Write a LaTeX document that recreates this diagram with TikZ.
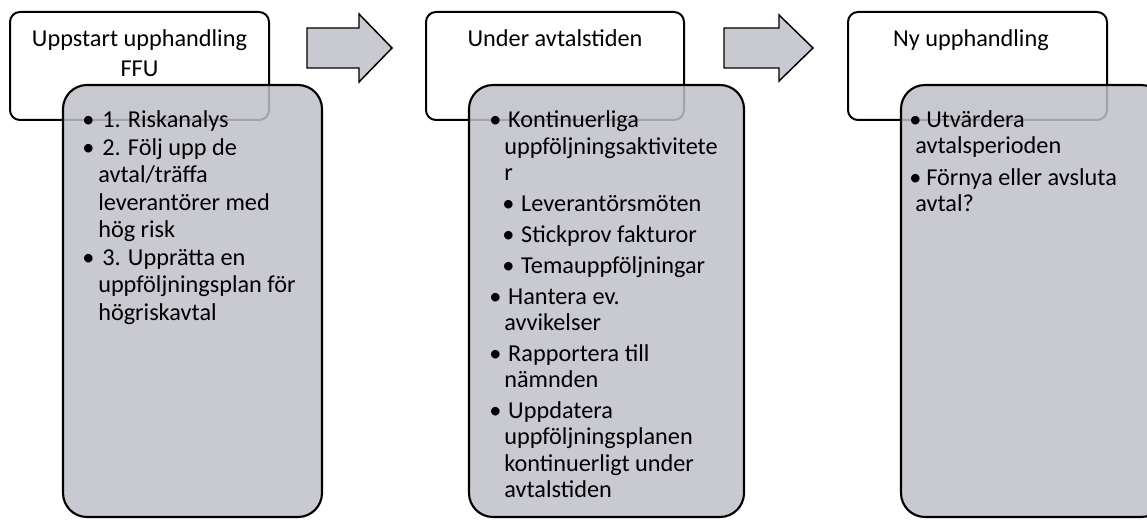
\documentclass[tikz,border=0pt]{standalone}
\usepackage{fontspec}
\setmainfont{Carlito}
\definecolor{panelgray}{RGB}{191,191,202}
\definecolor{arrowgray}{RGB}{201,201,210}
\newlength\bulw
\newlength\hangw
\newlength\subin
\newlength\subw
\newcommand\bl[1]{\par\hangindent=\hangw\hangafter=1\noindent\makebox[\bulw][l]{\textbullet}#1}
\newcommand\sbl[1]{\par\noindent\hspace*{\subin}\makebox[\subw][l]{\textbullet}#1}
\newcommand\bodyfont[1]{\fontsize{18.2pt}{#1}\selectfont}
\tikzset{
  hdr/.style={draw=black, line width=1.5pt, rounded corners=7.5pt, fill=white, inner sep=0pt,
    minimum width=194.25pt, minimum height=81pt},
  panel/.style={draw=black, line width=1.6pt, rounded corners=18pt, fill=panelgray,
    fill opacity=0.85, draw opacity=1, inner sep=0pt, minimum height=324pt},
  blockarrow/.style={draw=black, line width=1.1pt, fill=arrowgray, line join=miter},
  hdrtext/.style={anchor=base, inner sep=0pt},
  listtext/.style={anchor=base west, inner sep=0pt},
}
\begin{document}
\begin{tikzpicture}[x=0.75pt,y=-0.75pt]
\useasboundingbox (0,0) rectangle (1147,520);
\clip (0,0) rectangle (1147,520);

% headers and panels
\node[hdr] (h1) at (139.5,66) {};
\node[panel, minimum width=194.25pt] (g1) at (192.5,301) {};
\node[hdr, minimum width=193.5pt] (h2) at (555,66) {};
\node[panel, minimum width=206.25pt] (g2) at (606.5,301) {};
\node[hdr] (h3) at (977.5,66) {};
\node[panel, minimum width=198pt] (g3) at (1033,301) {};

% block arrows
\draw[blockarrow] (307,28) -- (359,28) -- (359,14) -- (392,48) -- (359,82) -- (359,68) -- (307,68) -- cycle;
\draw[blockarrow] (724,28) -- (779,28) -- (779,15) -- (813,48) -- (779,81) -- (779,68) -- (724,68) -- cycle;

% header texts
\node[hdrtext] (t1) at (139.5,46.5) {\parbox[t]{194pt}{\centering\bodyfont{22.5pt}Uppstart upphandling\\FFU}};
\node[hdrtext] (t2) at (555,46.5) {\parbox[t]{194pt}{\centering\bodyfont{22.5pt}Under avtalstiden}};
\node[hdrtext] (t3) at (971,46.5) {\parbox[t]{194pt}{\centering\bodyfont{22.5pt}Ny upphandling}};

% panel texts
\node[listtext] (l1) at (82,128) {\parbox[t]{230pt}{\bodyfont{20.6pt}%
  \setlength\parskip{0pt}\setlength\bulw{15pt}\setlength\hangw{12pt}%
  \bl{1. Riskanalys}
  \bl{2. Följ upp de\newline avtal/träffa\newline leverantörer med\newline hög risk}
  \bl{3. Upprätta en\newline uppföljningsplan för\newline högriskavtal}}};

\node[listtext] (l2) at (489,128) {\parbox[t]{240pt}{\bodyfont{19.7pt}%
  \setlength\parskip{3.5pt}\setlength\bulw{14.25pt}\setlength\hangw{11.25pt}%
  \setlength\subin{9.75pt}\setlength\subw{14.25pt}%
  \bl{Kontinuerliga\newline uppföljningsaktivitete\newline r}
  \sbl{Leverantörsmöten}
  \sbl{Stickprov fakturor}
  \sbl{Temauppföljningar}
  \bl{Hantera ev.\newline avvikelser}
  \bl{Rapportera till\newline nämnden}
  \bl{Uppdatera\newline uppföljningsplanen\newline kontinuerligt under\newline avtalstiden}}};

\node[listtext] (l3) at (909,128) {\parbox[t]{230pt}{\bodyfont{19.1pt}%
  \setlength\parskip{5pt}\setlength\bulw{12.75pt}\setlength\hangw{4.5pt}%
  \bl{Utvärdera\newline avtalsperioden}
  \bl{Förnya eller avsluta\newline avtal?}}};
\end{tikzpicture}
\end{document}
